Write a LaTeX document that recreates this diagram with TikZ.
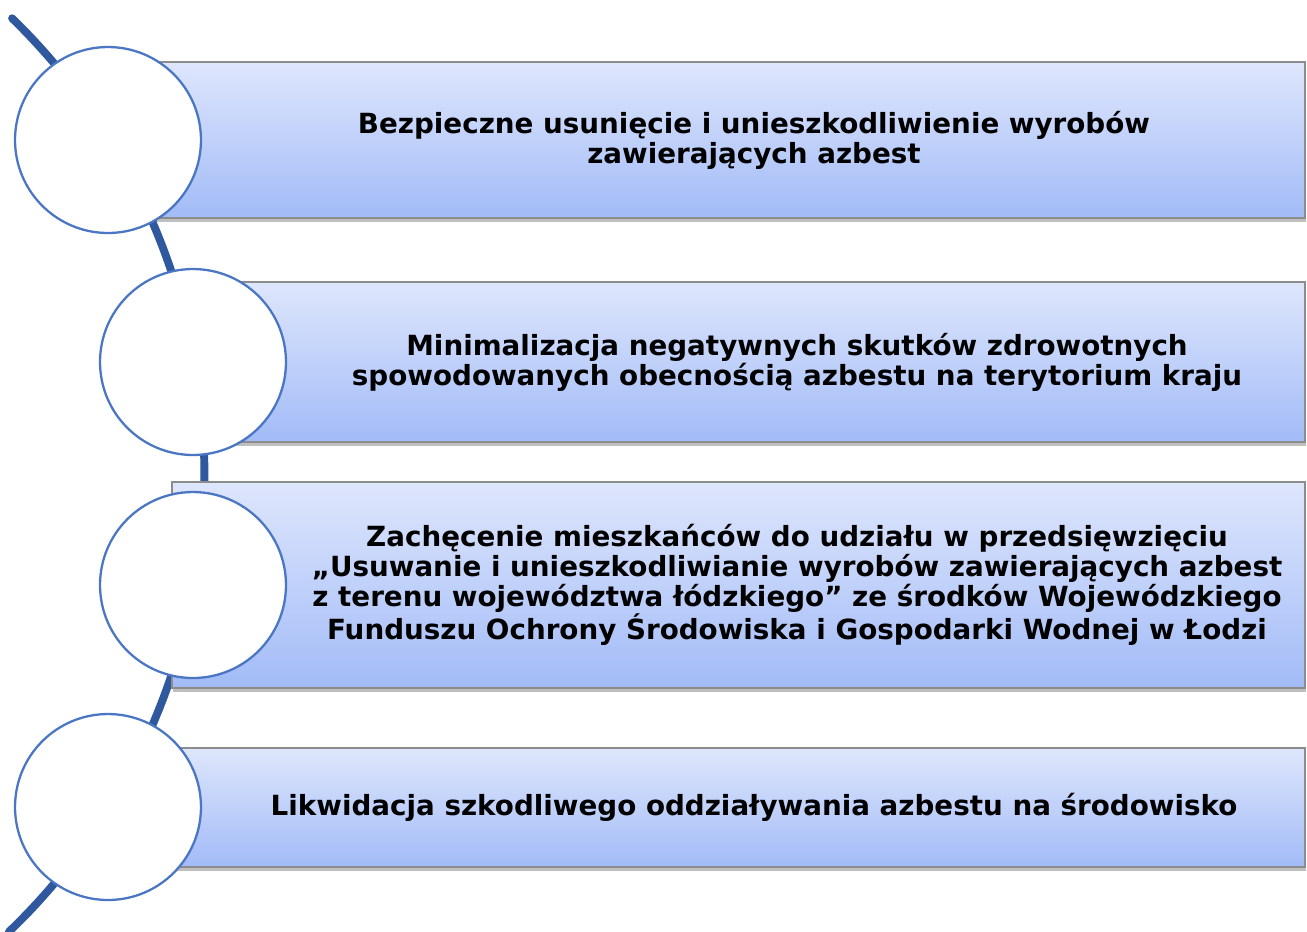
\documentclass[tikz,border=0pt]{standalone}
\usepackage{fontspec}
\setmainfont{DejaVu Sans}
\usetikzlibrary{shadows}
\definecolor{bartop}{RGB}{222,230,252}
\definecolor{barbot}{RGB}{162,187,247}
\definecolor{ringblue}{RGB}{74,118,196}
\definecolor{arcblue}{RGB}{47,88,158}
\begin{document}
\begin{tikzpicture}[x=0.02cm,y=-0.02cm,
  bar/.style={draw=black!45,line width=0.6pt,top color=bartop,bottom color=barbot,
    drop shadow={shadow xshift=0.5pt,shadow yshift=-2.5pt,opacity=0.25,fill=black}},
  ring/.style={circle,draw=ringblue,line width=1.3pt,fill=white,minimum size=3.72cm,inner sep=0pt},
  label/.style={font=\bfseries\fontsize{15.8}{17.1}\selectfont,align=center,text=black}]
\def \xr{1305};
\useasboundingbox (0,0) rectangle (1307,931);
\draw[arcblue,line width=4.5pt,line cap=round] (-430.6,473.5) ++(-45.8:635) arc[start angle=-45.8,end angle=46.2,radius=635];
\path[bar] (108,62) rectangle (\xr,218);
\path[bar] (172,282) rectangle (\xr,442);
\path[bar] (172,482) rectangle (\xr,688);
\path[bar] (108,748) rectangle (\xr,867);
\node[ring] (c1) at (108,140) {};
\node[ring] (c2) at (193,362) {};
\node[ring] (c3) at (193,585) {};
\node[ring] (c4) at (108,807) {};
\node[label] (t1) at (754,140) {Bezpieczne usunięcie i unieszkodliwienie wyrobów\\zawierających azbest};
\node[label] (t2) at (797,362) {Minimalizacja negatywnych skutków zdrowotnych\\spowodowanych obecnością azbestu na terytorium kraju};
\node[label] (t3) at (797,585) {Zachęcenie mieszkańców do udziału w przedsięwzięciu\\„Usuwanie i unieszkodliwianie wyrobów zawierających azbest\\z terenu województwa łódzkiego” ze środków Wojewódzkiego\\Funduszu Ochrony Środowiska i Gospodarki Wodnej w Łodzi};
\node[label] (t4) at (754,807) {Likwidacja szkodliwego oddziaływania azbestu na środowisko};
\end{tikzpicture}
\end{document}
